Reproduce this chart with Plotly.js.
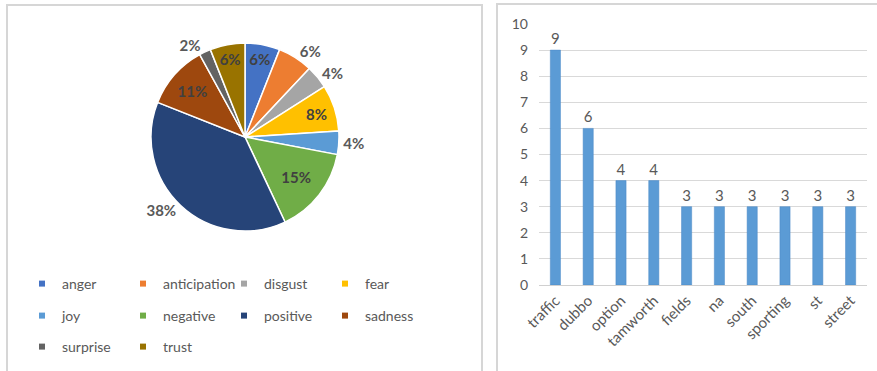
<!DOCTYPE html>
<html>
<head>
<meta charset="utf-8">
<script src="https://cdn.plot.ly/plotly-3.0.1.min.js"></script>
<style>
  html, body { margin: 0; padding: 0; background: #fff; overflow: hidden; }
  body { width: 877px; height: 371px; position: relative; }
  .panel { position: absolute; border: 2px solid #d6d6d6; box-sizing: border-box; background: #fff; }
  #pie { left: 6px; top: 4px; width: 477px; height: 375px; }
  #bar { left: 496px; top: 3px; width: 395px; height: 375px; }
</style>
</head>
<body>
<div id="pie" class="panel"></div>
<div id="bar" class="panel"></div>
<script>
// Emotion shares (percent of all tagged words)
const emotions = ['anger', 'anticipation', 'disgust', 'fear', 'joy',
                  'negative', 'positive', 'sadness', 'surprise', 'trust'];
const emotionShare = [6, 6, 4, 8, 4, 15, 38, 11, 2, 6];
const emotionColors = ['#4472C4', '#ED7D31', '#A5A5A5', '#FFC000', '#5B9BD5',
                       '#70AD47', '#264478', '#9E480E', '#636363', '#997300'];
const labelPlacement = ['inside', 'outside', 'outside', 'inside', 'outside',
                        'inside', 'outside', 'inside', 'outside', 'inside'];

// Most frequent words
const words = ['traffic', 'dubbo', 'option', 'tamworth', 'fields',
               'na', 'south', 'sporting', 'st', 'street'];
const wordCounts = [9, 6, 4, 4, 3, 3, 3, 3, 3, 3];
const countTicks = [0, 1, 2, 3, 4, 5, 6, 7, 8, 9, 10];

const FONT = 'Lato, "Open Sans", sans-serif';
const cfg = { staticPlot: true, displayModeBar: false };

// ---- Pie chart ----
const pieW = 473, pieH = 371;
const cx = 237, cy = 131, r = 94;
const perRow = 4;
const rowY = [278, 310, 341];          // legend row centres, px from top
const legendKeys = ['legend', 'legend2', 'legend3'];

const pieTrace = {
  type: 'pie',
  labels: emotions,
  values: emotionShare,
  sort: false,
  direction: 'clockwise',
  rotation: 0,
  showlegend: false,
  marker: { colors: emotionColors, line: { color: '#ffffff', width: 1.5 } },
  texttemplate: '%{value}%',
  textposition: labelPlacement,
  insidetextorientation: 'horizontal',
  insidetextfont: { family: FONT, size: 15, weight: 'bold', color: '#404040' },
  outsidetextfont: { family: FONT, size: 15, weight: 'bold', color: '#595959' },
  hoverinfo: 'none',
  domain: {
    x: [(cx - r) / pieW, (cx + r) / pieW],
    y: [(pieH - cy - r) / pieH, (pieH - cy + r) / pieH]
  }
};

// Legend keys: small square swatches, four per row
const keyTraces = emotions.map((name, i) => ({
  type: 'scatter',
  mode: 'markers',
  name: name,
  x: [null], y: [null],
  marker: { symbol: 'square', size: 6, color: emotionColors[i] },
  legend: legendKeys[Math.floor(i / perRow)],
  hoverinfo: 'none'
}));

const legendBase = {
  orientation: 'h',
  x: 14 / pieW, xanchor: 'left',
  yanchor: 'middle',
  entrywidth: 56, entrywidthmode: 'pixels',
  itemwidth: 30,
  font: { family: FONT, size: 14, color: '#595959' },
  bgcolor: 'rgba(0,0,0,0)'
};

const pieLayout = {
  width: pieW, height: pieH,
  margin: { l: 0, r: 0, t: 0, b: 0 },
  paper_bgcolor: '#ffffff',
  plot_bgcolor: 'rgba(0,0,0,0)',
  font: { family: FONT, size: 13, color: '#595959' },
  showlegend: true,
  xaxis: { visible: false },
  yaxis: { visible: false }
};
legendKeys.forEach((key, k) => {
  pieLayout[key] = Object.assign({}, legendBase, { y: (pieH - rowY[k]) / pieH });
});

Plotly.newPlot('pie', [pieTrace].concat(keyTraces), pieLayout, cfg);

// ---- Bar chart ----
const barW = 391, barH = 371;
Plotly.newPlot('bar', [{
  type: 'bar',
  x: words,
  y: wordCounts,
  marker: { color: '#5B9BD5', line: { color: '#4a88c7', width: 0.5 } },
  text: wordCounts.map(String),
  textposition: 'outside',
  textfont: { family: FONT, size: 15, color: '#595959' },
  cliponaxis: false,
  hoverinfo: 'none'
}], {
  width: barW, height: barH,
  margin: { l: 41, r: barW - 369, t: 19, b: barH - 280 },
  paper_bgcolor: '#ffffff',
  plot_bgcolor: '#ffffff',
  bargap: 0.69,
  font: { family: FONT, size: 14, color: '#595959' },
  showlegend: false,
  xaxis: {
    type: 'category',
    tickangle: -45,
    showgrid: false,
    showline: true, linecolor: '#d0d0d0', linewidth: 1,
    ticks: '',
    tickfont: { family: FONT, size: 15, color: '#595959' }
  },
  yaxis: {
    range: [0, 10],
    tickvals: countTicks,
    showgrid: true, gridcolor: '#d9d9d9', gridwidth: 1,
    zeroline: false,
    showline: false,
    ticks: '',
    ticklabelstandoff: 10,
    tickfont: { family: FONT, size: 14, color: '#595959' }
  }
}, cfg);
</script>
</body>
</html>
